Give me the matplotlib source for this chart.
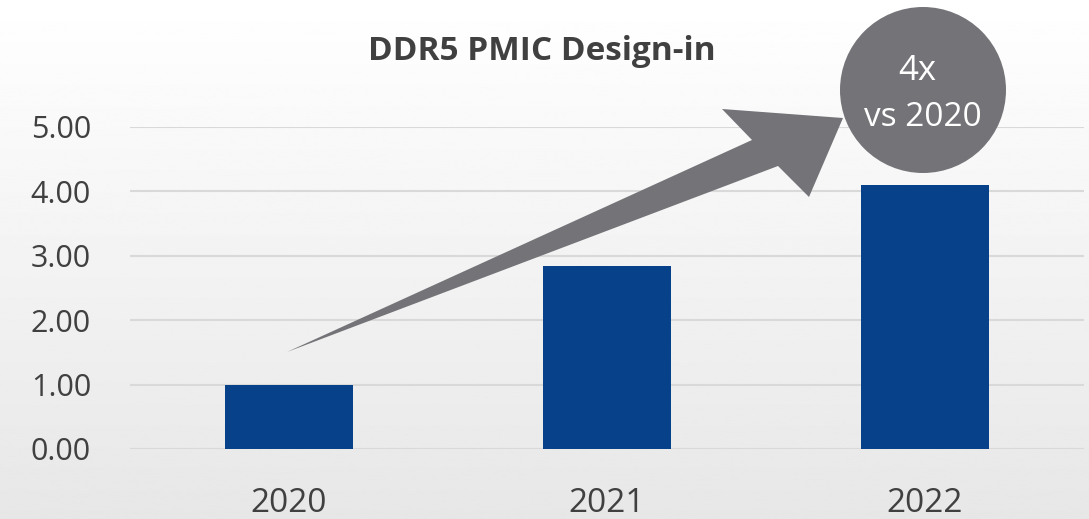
import numpy as np
import matplotlib.pyplot as plt
from matplotlib.patches import Polygon, Circle

# ---- data ----
years = ["2020", "2021", "2022"]
design_in = [1.00, 2.84, 4.10]
yticks = [0, 1, 2, 3, 4, 5]

BAR_COLOR = "#064189"
TEXT_COLOR = "#404040"
GREY = "#747378"
FONT = "Open Sans"

W, H = 1089, 519
fig = plt.figure(figsize=(W / 100, H / 100), dpi=100)

# background gradient (white -> light grey)
bg = fig.add_axes([0, 0, 1, 1], zorder=-10)
grad = np.linspace(1.0, 0.905, 256).reshape(-1, 1)
bg.imshow(grad, aspect="auto", cmap="gray", vmin=0, vmax=1, extent=[0, 1, 0, 1])
bg.axis("off")

# main chart
ax = fig.add_axes([130 / W, (H - 449) / H, (1084 - 130) / W, 322 / H])
ax.patch.set_alpha(0)
x = np.arange(len(years))
ax.bar(x, design_in, width=0.40, color=BAR_COLOR, zorder=3)
ax.set_xlim(-0.5, 2.5)
ax.set_ylim(0, 5)
ax.set_yticks(yticks)
ax.set_yticklabels([f"{v:.2f}" for v in yticks])
ax.set_xticks(x)
ax.set_xticklabels(years)
ax.grid(axis="y", color="#d9d9d9", linewidth=1.5, zorder=0)
for s in ax.spines.values():
    s.set_visible(False)
ax.tick_params(axis="both", length=0, colors=TEXT_COLOR)
ax.tick_params(axis="y", pad=28, labelsize=22)
ax.tick_params(axis="x", pad=27, labelsize=24)
for lab in ax.get_xticklabels() + ax.get_yticklabels():
    lab.set_fontfamily(FONT)

# overlay in pixel coordinates for the title and callout
ov = fig.add_axes([0, 0, 1, 1], zorder=10)
ov.set_xlim(0, W)
ov.set_ylim(H, 0)
ov.axis("off")
ov.patch.set_alpha(0)

ov.text(542, 52, "DDR5 PMIC Design-in", ha="center", va="center",
        fontsize=24, fontweight="bold", color=TEXT_COLOR, family=FONT)

arrow = [(287, 352), (752, 140), (722, 109), (843, 118), (809, 197), (778, 166)]
ov.add_patch(Polygon(arrow, closed=True, facecolor=GREY, edgecolor="none"))
ov.add_patch(Circle((923, 90), 83, facecolor=GREY, edgecolor="none"))
ov.text(917, 71, "4x", ha="center", va="center", fontsize=25, color="white", family=FONT)
ov.text(923, 118, "vs 2020", ha="center", va="center", fontsize=24, color="white", family=FONT)

fig.savefig("out.png", dpi=100)
